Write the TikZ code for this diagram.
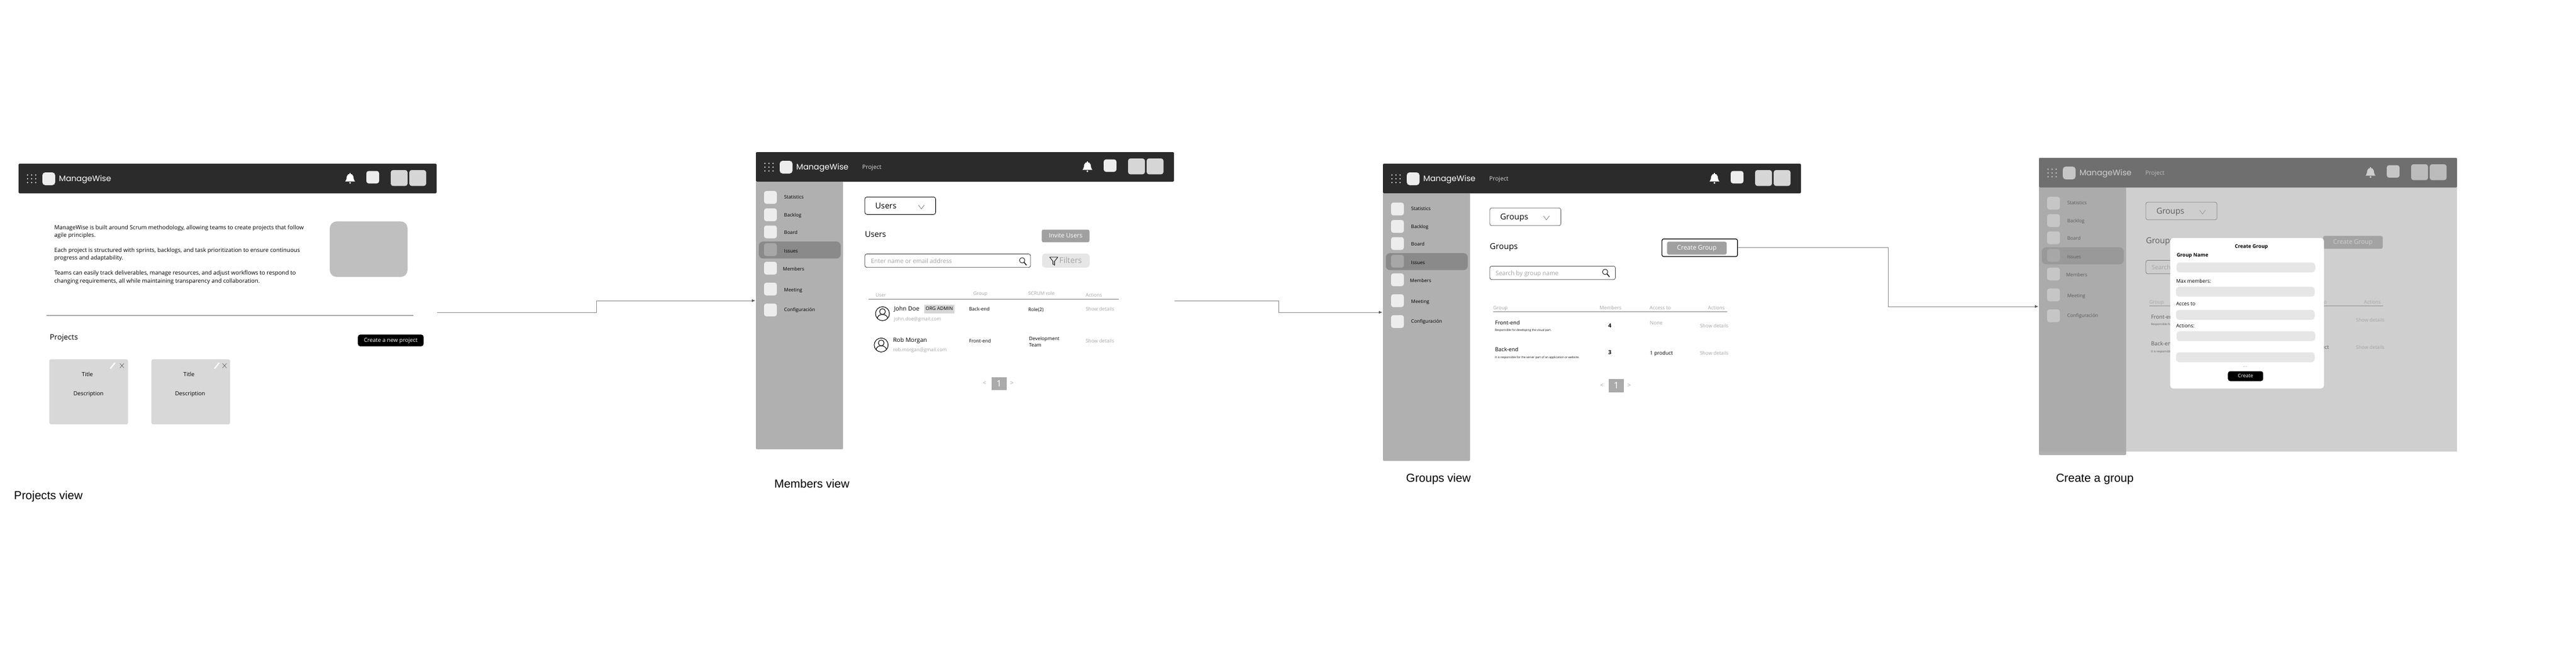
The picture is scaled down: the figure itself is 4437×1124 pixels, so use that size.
\documentclass[tikz,border=0pt]{standalone}
\usepackage{fontspec}
\setmainfont{Open Sans}
\newfontfamily\logofont{Poppins}
\newfontfamily\viewfont{Liberation Sans}
\usetikzlibrary{arrows.meta,calc}

\definecolor{barblack}{HTML}{2B2B2B}
\definecolor{sidegray}{HTML}{B0B0B0}
\definecolor{issuegray}{HTML}{8A8A8A}
\definecolor{tilegray}{HTML}{EDEDED}
\definecolor{usergray}{HTML}{D6D6D6}
\definecolor{btngray}{HTML}{A0A0A0}
\definecolor{fieldgray}{HTML}{E6E6E6}
\definecolor{mutedgray}{HTML}{A3A3A3}
\definecolor{veilgray}{HTML}{A7A7A7}

\tikzset{
  lbl/.style={anchor=west,inner sep=0pt,xshift=-0.005cm,yshift=-0.005cm,text height=#1*0.75pt,text depth=#1*0.2pt,font=\fontsize{#1}{#1}\selectfont},
  lbl/.default=2.7,
  mid/.style={lbl=#1,anchor=center,xshift=0cm},
  mid/.default=2.7,
  muted/.style={text=mutedgray},
  tile/.style={fill=tilegray,rounded corners=0.04cm},
  viewframe/.style={inner sep=0pt,minimum width=7.2cm,minimum height=5.12cm},
  viewname/.style={lbl=5.7,font=\viewfont\fontsize{5.7}{5.7}\selectfont},
  link/.style={draw=gray!90,line width=0.008cm,-{Latex[length=0.06cm,width=0.05cm,color=black!65]}},
  inputbox/.style={draw=black!75,fill=white,line width=0.008cm,rounded corners=0.035cm},
  formfield/.style={fill=fieldgray,rounded corners=0.05cm},
  chevron/.style={draw=black!70,line width=0.005cm},
}

% top bar, #1 prefix, #2 section name
\newcommand{\headerbar}[2]{
  \fill[barblack,rounded corners=0.02cm] (0,0) rectangle (720,51);
  \foreach \i in {15.5,22.5,29.5}
    \foreach \j in {19.5,26,32.5}
      \fill[white] (\i,\j) circle[radius=1.2];
  \fill[tile,rounded corners=0.05cm] (41,15) rectangle (63,37);
  \node[lbl=3.92,font=\logofont\fontsize{3.92}{3.92}\selectfont,text=white] (#1logo) at (69.5,26.4) {ManageWise};
  \node[lbl=2.9,text=white!85!black] (#1section) at (183,26.4) {#2};
  \begin{scope}[shift={(571,25)},white]
    \fill (-8.5,5.5) .. controls (-6,3) and (-6,-1) .. (-5.5,-3.5) .. controls (-5,-6.5) and (-2,-7.5) .. (0,-7.5) .. controls (2,-7.5) and (5,-6.5) .. (5.5,-3.5) .. controls (6,-1) and (6,3) .. (8.5,5.5) -- cycle;
    \fill (-1,-7) rectangle (1,-9.3);
    \fill (0,8) circle[radius=1.7];
  \end{scope}
  \fill[tile] (599,12.6) rectangle (621,34);
  \fill[usergray,rounded corners=0.04cm] (641,11) rectangle (670,38.3);
  \fill[usergray,rounded corners=0.04cm] (673,11) rectangle (702,38.3);
}

% left menu, #1 prefix
\newcommand{\sidebar}[1]{
  \fill[sidegray,rounded corners=0.02cm] (0,51) rectangle (150,512);
  \fill[sidegray] (0,51) rectangle (150,60);
  \fill[issuegray,rounded corners=0.07cm] (5,154.2) rectangle (146,183.3);
  \foreach \y/\ty/\tx/\name in {78/77.7/48.5/Statistics,108/108.3/48.5/Backlog,137.5/139/48.5/Board,236/238/48.5/Meeting,272/271.7/48.5/Configuración,200/202/46.5/Members}{
    \fill[tile] (14,\y-11) rectangle (36,\y+11);
    \node[lbl=2.33] (#1\name) at (\tx,\ty) {\name};
  }
  \fill[fill=sidegray!95!black,rounded corners=0.04cm] (14,157) rectangle (36,179);
  \node[lbl=2.33] (#1Issues) at (48.5,170.3) {Issues};
}

\newcommand{\lens}[2]{
  \draw[line width=0.008cm] (#1-1,#2-1.5) circle[radius=4.6];
  \draw[line width=0.014cm] (#1+2.4,#2+2) -- (#1+6.4,#2+7);
}

\newcommand{\usermark}[2]{
  \begin{scope}[shift={(#1,#2)},line width=0.01cm]
    \draw (0,0) circle[radius=12];
    \draw (0,-3.6) circle[radius=5];
    \draw (-9,8) .. controls (-8,3) and (-4,1.4) .. (0,1.4) .. controls (4,1.4) and (8,3) .. (9,8);
  \end{scope}
}

% page number with arrows, #1 prefix, #2 left edge, #3 top
\newcommand{\pager}[3]{
  \node[anchor=north west,inner sep=0pt,fill=btngray!90!white,minimum width=0.26cm,minimum height=0.225cm,text=white,font=\fontsize{4.4}{4.4}\selectfont] (#1page) at (#2,#3) {1};
  \node[mid=3,muted] (#1prev) at (#2-10.7,#3+11.5) {<};
  \node[mid=3,muted] (#1next) at (#2+36.3,#3+11.5) {>};
}

% body of the groups screen, #1 prefix
\newcommand{\groupsbody}[1]{
  \draw[inputbox,draw=black!60] (184,76.2) rectangle (306.6,106.8);
  \node[lbl=4] (#1pick) at (202,92.2) {Groups};
  \draw[chevron] (276.5,90) -- (281.6,96.8) -- (286.7,90);
  \node[lbl=4] (#1title) at (184,142.7) {Groups};
  \node[mid=3.1,fill=btngray,text=white,rounded corners=0.03cm,minimum width=1.025cm,minimum height=0.222cm] (#1create) at (541.2,145) {Create Group};
  \draw[inputbox,draw=black!70] (184,176.4) rectangle (400.5,199.8);
  \node[lbl=2.95,muted] (#1search) at (193.9,189.4) {Search by group name};
  \lens{383.7}{187.9}
  \fill[black!28] (189.8,253.7) rectangle (592.9,256.1);
  \node[lbl=2.4,muted] (#1colgroup) at (189.8,248.4) {Group};
  \node[lbl=2.4,muted] (#1colmembers) at (373,248.8) {Members};
  \node[lbl=2.4,muted] (#1colaccess) at (459.2,248.4) {Access to};
  \node[lbl=2.4,muted] (#1colactions) at (559.7,248.4) {Actions};
  \node[lbl=2.65] (#1front) at (192.9,274) {Front-end};
  \node[lbl=1.4] (#1frontdesc) at (192.9,287) {Responsible for developing the visual part.};
  \node[mid=2.7] (#1frontnum) at (391.3,279.8) {\textbf{4}};
  \node[lbl=2.45,muted] (#1none) at (459.7,274.8) {None};
  \node[lbl=2.38,muted] (#1frontshow) at (545.9,279.8) {Show details};
  \node[lbl=2.65] (#1back) at (192.9,320.7) {Back-end};
  \node[lbl=1.4] (#1backdesc) at (192.9,333.3) {It is responsible for the server part of an application or website.};
  \node[mid=2.7] (#1backnum) at (391.3,324.9) {\textbf{3}};
  \node[lbl=2.5] (#1product) at (459.7,326.4) {1 product};
  \node[lbl=2.38,muted] (#1backshow) at (545.9,326.4) {Show details};
  \pager{#1}{388.3}{370.5}
}

\begin{document}
\begin{tikzpicture}[x=0.01cm,y=-0.01cm]
\useasboundingbox (0,0) rectangle (4437,1124);

% projects view
\node[viewframe] (projectsview) at (392,538) {};
\begin{scope}[shift={(32,282)}]
  \headerbar{p}{}
\end{scope}
\node[anchor=north west,inner sep=0pt,align=left,font=\fontsize{2.8}{3.73}\selectfont] (intro) at (92.9,387)
  {ManageWise is built around Scrum methodology, allowing teams to create projects that follow\\
   agile principles.\\ \\
   Each project is structured with sprints, backlogs, and task prioritization to ensure continuous\\
   progress and adaptability.\\ \\
   Teams can easily track deliverables, manage resources, and adjust workflows to respond to\\
   changing requirements, all while maintaining transparency and collaboration.};
\fill[fill=black!25,rounded corners=0.12cm] (568,381.4) rectangle (702,477.1);
\draw[black!55,line width=0.008cm] (80,543.5) -- (712,543.5);
\node[lbl=3.7] (projectstitle) at (85.7,581.5) {Projects};
\node[mid=2.75,fill=black,text=white,rounded corners=0.04cm,minimum width=1.13cm,minimum height=0.202cm] (newproject) at (673.5,586) {Create a new project};
\foreach \x/\tx/\n/\pen/\cross in {85/151/a/194/210,260.7/326/b/373.5/386.7}{
  \fill[usergray!95!white,rounded corners=0.03cm] (\x,619) rectangle (\x+135.7,731);
  \node[mid=2.75] (title\n) at (\tx,645.5) {Title};
  \node[mid=2.75] (desc\n) at (\tx+2,678.3) {Description};
  \draw[white,line width=0.022cm] (\pen-4,635) -- (\pen+4,625);
  \draw[black!70,line width=0.005cm] (\cross-3.5,626) -- (\cross+3.5,634) (\cross-3.5,634) -- (\cross+3.5,626);
}
\node[viewname] (projectsname) at (24,854.3) {Projects view};

% members view
\node[viewframe] (membersview) at (1662,518) {};
\begin{scope}[shift={(1302,262)}]
  \headerbar{m}{Project}
  \sidebar{m}
\end{scope}
\draw[inputbox,draw=black] (1489.7,339.4) rectangle (1611.6,369.4);
\node[lbl=3.9] (userspick) at (1507.5,355.6) {Users};
\draw[chevron] (1582,353.2) -- (1587,360) -- (1592,353.2);
\node[lbl=3.9] (userstitle) at (1489.7,403.8) {Users};
\node[mid=3,fill=btngray,text=white,rounded corners=0.03cm,minimum width=0.822cm,minimum height=0.218cm] (inviteusers) at (1835.9,406) {Invite Users};
\draw[inputbox] (1489.7,437.4) rectangle (1775,460.8);
\node[lbl=2.95,muted] (usersearch) at (1500,450.5) {Enter name or email address};
\lens{1761.6}{450}
\fill[fieldgray,rounded corners=0.05cm] (1794.8,437) rectangle (1877,460.8);
\draw[line width=0.008cm,line join=round] (1808,443) -- (1822,443) -- (1816.5,450) -- (1816.5,457) -- (1813.5,455) -- (1813.5,450) -- cycle;
\node[lbl=3.9,muted] (filters) at (1824.5,449.7) {Filters};
\fill[black!50] (1495.8,514.7) rectangle (1927,515.9);
\node[lbl=2.35,muted] (coluser) at (1508,509) {User};
\node[lbl=2.35,muted] (colgroup) at (1676.4,506.2) {Group};
\node[lbl=2.35,muted] (colrole) at (1770.8,506.2) {SCRUM role};
\node[lbl=2.35,muted] (colactions) at (1869.8,509) {Actions};
\usermark{1520}{540.4}
\node[lbl=2.93] (johnname) at (1539.7,531.9) {John Doe};
\node[mid=2.35,fill=usergray,minimum width=0.527cm,minimum height=0.147cm] (johnbadge) at (1618.4,531.7) {ORG ADMIN};
\node[lbl=2.34,muted] (johnmail) at (1539.7,549.3) {john.doe@gmail.com};
\node[lbl=2.35] (johngroup) at (1668.8,532.7) {Back-end};
\node[lbl=2.35] (johnrole) at (1770.8,533.9) {Role(2)};
\node[lbl=2.38,muted] (johnshow) at (1869.8,533.1) {Show details};
\usermark{1517.8}{594.4}
\node[lbl=2.9] (robname) at (1538.2,586.1) {Rob Morgan};
\node[lbl=2.34,muted] (robmail) at (1538.2,603.1) {rob.morgan@gmail.com};
\node[lbl=2.35] (robgroup) at (1668.8,587.3) {Front-end};
\node[lbl=2.38] (robrole) at (1772.3,584.1) {Development};
\node[lbl=2.38] (robteam) at (1772.3,594.8) {Team};
\node[lbl=2.38,muted] (robshow) at (1869.8,587.3) {Show details};
\pager{u}{1707}{649}
\node[viewname] (membersname) at (1333.6,834) {Members view};

% groups view
\node[viewframe] (groupsview) at (2742,538) {};
\begin{scope}[shift={(2382,282)}]
  \headerbar{g}{Project}
  \sidebar{g}
  \node[draw=black,fill=white,line width=0.012cm,rounded corners=0.03cm,inner sep=0pt,minimum width=1.301cm,minimum height=0.303cm] (createframe) at (545.65,144.85) {};
  \groupsbody{g}
\end{scope}
\node[viewname] (groupsname) at (2421.7,824) {Groups view};

% create a group
\node[viewframe] (createview) at (3872,528) {};
\begin{scope}[shift={(3512,272)}]
  \headerbar{c}{Project}
  \sidebar{c}
  \groupsbody{c}
  \fill[veilgray,opacity=0.55] (0,0) rectangle (720,506.2);
\end{scope}
\fill[white,rounded corners=0.05cm] (3738,410) rectangle (4002.7,669.3);
\node[mid=2.45] (dialogtitle) at (3878.3,425) {\textbf{Create Group}};
\node[lbl=2.45] (namelabel) at (3749,440) {\textbf{Group Name}};
\fill[formfield] (3749,452.3) rectangle (3987.7,469.3);
\node[lbl=2.45] (maxlabel) at (3748,485) {Max members:};
\fill[formfield] (3748,494) rectangle (3986.7,511);
\node[lbl=2.45] (accesslabel) at (3748,524) {Acces to};
\fill[formfield] (3748,534) rectangle (3986.7,551);
\node[lbl=2.45] (actionslabel) at (3748,561.3) {Actions:};
\fill[formfield] (3749,570.7) rectangle (3987.7,587.7);
\fill[formfield] (3748,607) rectangle (3986.7,624);
\node[mid=2.5,muted] (moredots) at (3867.3,630) {...};
\node[mid=2.45,fill=black,text=white,rounded corners=0.04cm,minimum width=0.607cm,minimum height=0.17cm] (createbtn) at (3868.3,647.5) {Create};
\node[viewname] (createname) at (3541,824) {Create a group};

% connectors
\foreach \from/\to in {projectsview.east/membersview.west,membersview.east/groupsview.west,createframe.east/createview.west}
  \draw[link] (\from) -| ($(\from)!.5!(\to)$) |- (\to);

\end{tikzpicture}
\end{document}
